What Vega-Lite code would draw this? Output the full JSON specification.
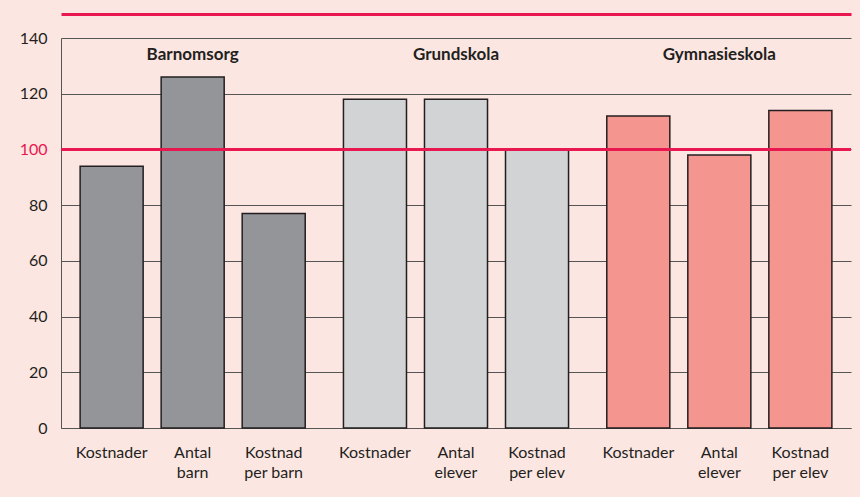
{
  "$schema": "https://vega.github.io/schema/vega-lite/v6.json",
  "autosize": {"type": "none"},
  "width": 790,
  "height": 390,
  "padding": {"left": 61, "top": 38, "right": 9, "bottom": 69},
  "background": "#fce6e2",
  "config": {
    "font": "Lato",
    "view": {"stroke": null},
    "axis": {"labelFont": "Lato", "titleFont": "Lato"}
  },
  "datasets": {
    "bars": [
      {"group": "Barnomsorg", "item": "a", "label": "Kostnader", "value": 94},
      {"group": "Barnomsorg", "item": "b", "label": "Antal\nbarn", "value": 126},
      {"group": "Barnomsorg", "item": "c", "label": "Kostnad\nper barn", "value": 77},
      {"group": "Grundskola", "item": "a", "label": "Kostnader", "value": 118},
      {"group": "Grundskola", "item": "b", "label": "Antal\nelever", "value": 118},
      {"group": "Grundskola", "item": "c", "label": "Kostnad\nper elev", "value": 100},
      {"group": "Gymnasieskola", "item": "a", "label": "Kostnader", "value": 112},
      {"group": "Gymnasieskola", "item": "b", "label": "Antal\nelever", "value": 98},
      {"group": "Gymnasieskola", "item": "c", "label": "Kostnad\nper elev", "value": 114}
    ],
    "groups": [
      {"group": "Barnomsorg"},
      {"group": "Grundskola"},
      {"group": "Gymnasieskola"}
    ]
  },
  "layer": [
    {
      "data": {"name": "bars"},
      "mark": {"type": "bar", "stroke": "#231f20", "strokeWidth": 1.5},
      "encoding": {
        "x": {
          "field": "group", "type": "nominal",
          "scale": {"domain": ["Barnomsorg", "Grundskola", "Gymnasieskola"], "paddingInner": 0, "paddingOuter": 0},
          "axis": {"orient": "bottom", "labels": false, "ticks": false, "title": null, "domain": true, "domainColor": "#555555", "domainWidth": 1}
        },
        "xOffset": {
          "field": "item", "type": "nominal",
          "scale": {"domain": ["a", "b", "c"], "paddingInner": 0.222, "paddingOuter": 0.236}
        },
        "y": {
          "field": "value", "type": "quantitative",
          "scale": {"domain": [0, 140], "nice": false},
          "axis": {
            "values": [0, 20, 40, 60, 80, 100, 120, 140],
            "title": null,
            "grid": true,
            "gridColor": "#555555",
            "gridWidth": 1,
            "gridOpacity": 1,
            "ticks": false,
            "domain": true,
            "domainColor": "#555555",
            "labelFontSize": 16,
            "labelPadding": 14,
            "labelColor": {"condition": {"test": "datum.value === 100", "value": "#e8174f"}, "value": "#231f20"}
          }
        },
        "color": {
          "field": "group", "type": "nominal",
          "scale": {"domain": ["Barnomsorg", "Grundskola", "Gymnasieskola"], "range": ["#939598", "#d1d3d4", "#f4968f"]},
          "legend": null
        }
      }
    },
    {
      "data": {"name": "groups"},
      "mark": {"type": "text", "fontWeight": "bold", "fontSize": 17, "color": "#231f20", "baseline": "middle"},
      "encoding": {
        "x": {"field": "group", "type": "nominal", "axis": {"orient": "top", "labels": false, "ticks": false, "title": null, "domain": true, "domainColor": "#e8174f", "domainWidth": 3, "offset": 24, "grid": false}},
        "y": {"datum": 134},
        "text": {"field": "group"}
      }
    },
    {
      "data": {"name": "bars"},
      "mark": {"type": "text", "fontSize": 16, "color": "#231f20", "baseline": "top", "lineBreak": "\n", "lineHeight": 20, "dy": 17},
      "encoding": {
        "x": {"field": "group", "type": "nominal", "axis": null},
        "xOffset": {"field": "item", "type": "nominal"},
        "y": {"datum": 0},
        "text": {"field": "label"}
      }
    },
    {
      "data": {"name": "groups"},
      "mark": {"type": "rule", "color": "#e8174f", "strokeWidth": 2.5},
      "encoding": {"y": {"datum": 100}}
    }
  ]
}
